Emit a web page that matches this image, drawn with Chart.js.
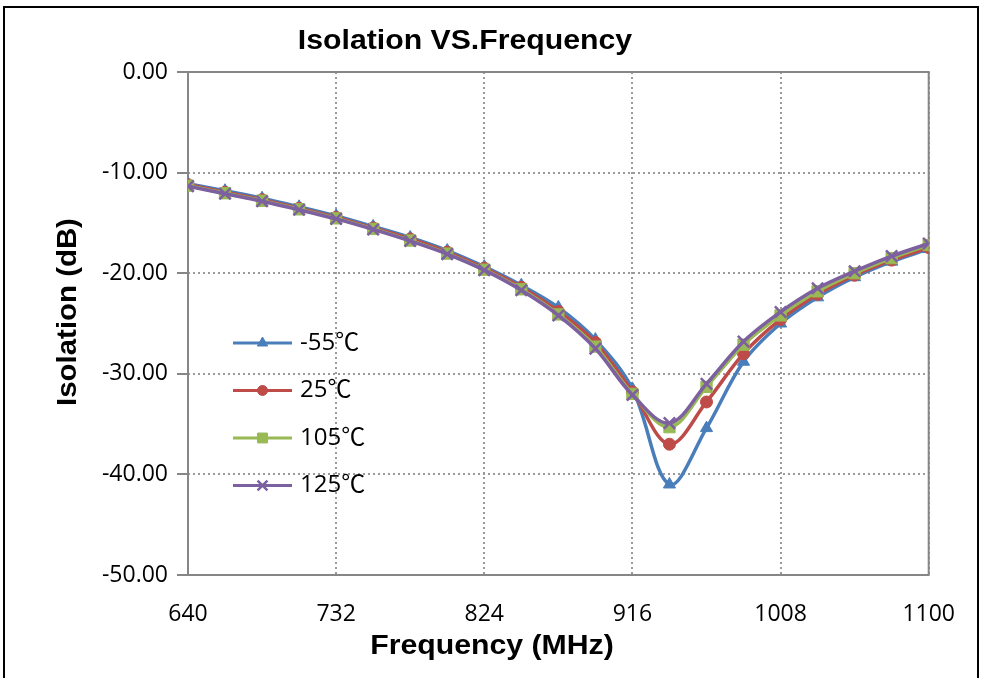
<!DOCTYPE html>
<html>
<head>
<meta charset="utf-8">
<script src="https://cdn.jsdelivr.net/npm/chart.js@4.4.1/dist/chart.umd.min.js"></script>
<style>
  html, body { margin: 0; padding: 0; background: #fff; }
  #wrap { position: relative; width: 981px; height: 678px; overflow: hidden; }
  #isoChart { position: absolute; left: 0; top: 0; }
  #frame { position: absolute; left: 3px; top: 6px; width: 972px; height: 700px; border: 2px solid #000; border-bottom: none; }
  .ttl { position: absolute; font-family: 'Liberation Sans', Arial, sans-serif; font-weight: bold; font-size: 28px; line-height: 30px; color: #000; text-align: center; white-space: nowrap; }
</style>
</head>
<body>
<div id="wrap">
  <canvas id="isoChart" width="981" height="678"></canvas>
  <div id="frame"></div>
  <div class="ttl" style="left:0; width:930px; top:25px; transform:scaleX(1.08);">Isolation VS.Frequency</div>
  <div class="ttl" style="left:0; width:984px; top:630px; transform:scaleX(1.08);">Frequency (MHz)</div>
  <div class="ttl" style="left:-83px; width:300px; top:297px; transform:rotate(-90deg) scaleX(1.05);">Isolation (dB)</div>
</div>
<script>
// values
var freqMHz = [640, 663, 686, 709, 732, 755, 778, 801, 824, 847, 870, 893, 916, 939, 962, 985, 1008, 1031, 1054, 1077, 1100];
var isoM55 = [-11.1, -11.8, -12.55, -13.4, -14.3, -15.35, -16.45, -17.75, -19.35, -21.2, -23.4, -26.6, -31.5, -41.0, -35.4, -28.8, -25.0, -22.4, -20.4, -18.85, -17.6];
var iso25 = [-11.2, -11.95, -12.7, -13.55, -14.45, -15.5, -16.6, -17.9, -19.5, -21.4, -23.8, -26.9, -31.8, -37.0, -32.8, -28.0, -24.6, -22.1, -20.2, -18.7, -17.45];
var iso105 = [-11.3, -12.05, -12.8, -13.65, -14.55, -15.6, -16.75, -18.05, -19.65, -21.6, -24.1, -27.3, -32.0, -35.3, -31.3, -27.1, -24.2, -21.8, -20.0, -18.5, -17.2];
var iso125 = [-11.35, -12.1, -12.85, -13.7, -14.6, -15.65, -16.8, -18.1, -19.7, -21.7, -24.2, -27.5, -32.1, -34.9, -31.0, -26.8, -23.85, -21.5, -19.8, -18.3, -17.05];
var seriesNames = ['-55\u2103', '25\u2103', '105\u2103', '125\u2103'];
var xTicks = [640, 732, 824, 916, 1008, 1100];
var yTicks = [0, -10, -20, -30, -40, -50];

var tickFont = "'Open Sans', 'Noto Sans CJK SC', sans-serif";

function toPoints(ys) {
  return freqMHz.map(function(f, i) { return { x: f, y: ys[i] }; });
}

// solid grey box round the plot area
var plotFrame = {
  id: 'plotFrame',
  beforeDatasetsDraw: function(chart) {
    var a = chart.chartArea;
    var ctx = chart.ctx;
    ctx.save();
    ctx.strokeStyle = '#868686';
    ctx.lineWidth = 2;
    ctx.strokeRect(a.left, a.top, a.right - a.left, a.bottom - a.top);
    ctx.restore();
  }
};

// legend drawn inside the plot, left side
var insideLegend = {
  id: 'insideLegend',
  afterDatasetsDraw: function(chart) {
    var ctx = chart.ctx;
    var x1 = 233, x2 = 292, y0 = 343, gap = 47.5;
    ctx.save();
    chart.data.datasets.forEach(function(ds, i) {
      var y = y0 + i * gap;
      ctx.strokeStyle = ds.borderColor;
      ctx.fillStyle = ds.backgroundColor;
      ctx.lineWidth = 3;
      ctx.beginPath();
      ctx.moveTo(x1, y);
      ctx.lineTo(x2, y);
      ctx.stroke();
      ctx.lineWidth = ds.pointBorderWidth;
      Chart.helpers.drawPoint(ctx, {
        pointStyle: ds.pointStyle,
        radius: ds.pointRadius - 1,
        rotation: 0,
        borderWidth: ds.pointBorderWidth
      }, (x1 + x2) / 2, y);
      ctx.fillStyle = '#000';
      ctx.font = '24px ' + tickFont;
      ctx.textAlign = 'left';
      ctx.textBaseline = 'middle';
      ctx.fillText(ds.label, 300, y);
    });
    ctx.restore();
  }
};

function series(label, ys, color, style, radius, bw, order) {
  return {
    label: label,
    data: toPoints(ys),
    borderColor: color,
    backgroundColor: color,
    borderWidth: 3.5,
    pointStyle: style,
    pointRadius: radius,
    pointBorderWidth: bw,
    pointBackgroundColor: color,
    pointBorderColor: color,
    tension: 0.35,
    fill: false,
    order: order
  };
}

var ctx = document.getElementById('isoChart').getContext('2d');
new Chart(ctx, {
  type: 'line',
  data: {
    datasets: [
      series(seriesNames[0], isoM55, '#4A7EBB', 'triangle', 7, 1, 4),
      series(seriesNames[1], iso25, '#BE4B48', 'circle', 6, 1, 3),
      series(seriesNames[2], iso105, '#98B954', 'rect', 8, 1, 2),
      series(seriesNames[3], iso125, '#7D60A0', 'crossRot', 8, 2.5, 1)
    ]
  },
  options: {
    responsive: false,
    animation: false,
    layout: { padding: { left: 0, top: 72, right: 50, bottom: 0 } },
    plugins: {
      legend: { display: false },
      title: { display: false },
      tooltip: { enabled: false }
    },
    scales: {
      x: {
        type: 'linear',
        min: 640,
        max: 1100,
        afterBuildTicks: function(scale) {
          scale.ticks = xTicks.map(function(v) { return { value: v }; });
        },
        afterFit: function(scale) { scale.height = 103; },
        grid: { color: '#9a9a9a', lineWidth: 2, drawTicks: false },
        border: { display: false, dash: [2, 3] },
        ticks: {
          autoSkip: false,
          maxRotation: 0,
          padding: 26,
          color: '#000',
          font: { family: tickFont, size: 23 },
          callback: function(v) { return String(v); }
        }
      },
      y: {
        min: -50,
        max: 0,
        afterBuildTicks: function(scale) {
          scale.ticks = yTicks.map(function(v) { return { value: v }; });
        },
        afterFit: function(scale) { scale.width = 188; },
        grid: { color: '#9a9a9a', lineWidth: 2, tickLength: 11, tickColor: '#868686', tickWidth: 2 },
        border: { display: false, dash: [2, 3] },
        ticks: {
          padding: 9,
          color: '#000',
          font: { family: tickFont, size: 23 },
          callback: function(v) { return Number(v).toFixed(2); }
        }
      }
    }
  },
  plugins: [plotFrame, insideLegend]
});
</script>
</body>
</html>
